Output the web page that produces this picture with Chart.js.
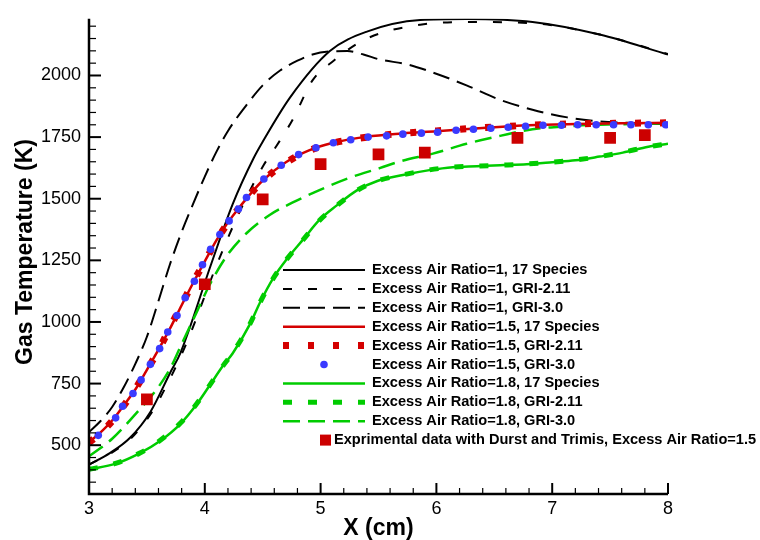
<!DOCTYPE html>
<html>
<head>
<meta charset="utf-8">
<script src="https://cdn.jsdelivr.net/npm/chart.js@4.4.1/dist/chart.umd.min.js"></script>
<style>
  html, body { margin: 0; padding: 0; background: #fff; }
</style>
</head>
<body>
<canvas id="myChart" width="760" height="540"></canvas>
<script>
// tick labels
var xTicks = [3, 4, 5, 6, 7, 8];
var yTicks = [500, 750, 1000, 1250, 1500, 1750, 2000];

// Excess air ratio = 1
var xEr1Sp17 = [3.0, 3.18, 3.35, 3.53, 3.70, 3.79, 4.05, 4.24, 4.42, 4.50, 4.74, 5.08, 5.40, 5.86, 6.26, 6.83, 7.41, 8.0];
var yEr1Sp17 = [421, 468, 528, 635, 793, 875, 1228, 1477, 1663, 1731, 1913, 2099, 2178, 2225, 2229, 2217, 2166, 2085];
var xEr1Gri211 = [3.0, 3.18, 3.35, 3.53, 3.70, 3.85, 4.10, 4.28, 4.50, 4.62, 4.76, 4.93, 5.11, 5.40, 5.86, 6.26, 6.83, 7.41, 8.0];
var yEr1Gri211 = [421, 465, 522, 625, 770, 923, 1228, 1426, 1630, 1715, 1822, 1980, 2059, 2150, 2206, 2217, 2212, 2166, 2087];
var xEr1Gri30 = [3.0, 3.1, 3.2, 3.3, 3.4, 3.5, 3.6, 3.7, 3.8, 3.9, 4.0, 4.1, 4.2, 4.36, 4.5, 4.65, 4.8, 4.93, 5.1, 5.23, 5.37, 5.51, 5.75, 5.97, 6.26, 6.55, 6.83, 7.13, 7.41, 7.65, 8.0];
var yEr1Gri30 = [553, 598, 655, 735, 830, 940, 1085, 1235, 1365, 1480, 1590, 1690, 1775, 1880, 1960, 2020, 2060, 2085, 2098, 2099, 2085, 2065, 2045, 2012, 1960, 1901, 1861, 1830, 1814, 1808, 1803];

// Excess air ratio = 1.5
var xEr15Sp17 = [3.0, 3.1, 3.2, 3.3, 3.4, 3.5, 3.6, 3.7, 3.8, 3.9, 4.0, 4.1, 4.2, 4.3, 4.4, 4.5, 4.7, 4.9, 5.1, 5.4, 5.7, 6.0, 6.4, 6.8, 7.2, 7.6, 8.0];
var yEr15Sp17 = [512, 552, 600, 662, 726, 806, 888, 974, 1068, 1159, 1246, 1331, 1404, 1466, 1523, 1574, 1648, 1696, 1726, 1752, 1765, 1774, 1787, 1798, 1803, 1806, 1808];
var xEr15Gri211 = [3.0, 3.1, 3.2, 3.3, 3.4, 3.5, 3.6, 3.7, 3.8, 3.9, 4.0, 4.1, 4.2, 4.3, 4.4, 4.5, 4.7, 4.9, 5.1, 5.4, 5.7, 6.0, 6.4, 6.8, 7.2, 7.6, 8.0];
var yEr15Gri211 = [510, 550, 598, 660, 728, 805, 885, 978, 1070, 1162, 1245, 1330, 1402, 1465, 1522, 1572, 1646, 1695, 1725, 1750, 1765, 1775, 1788, 1798, 1804, 1806, 1808];
var xEr15Gri30 = [3.08, 3.23, 3.29, 3.38, 3.45, 3.53, 3.61, 3.68, 3.76, 3.83, 3.91, 3.98, 4.05, 4.13, 4.21, 4.29, 4.36, 4.51, 4.66, 4.81, 4.96, 5.11, 5.26, 5.41, 5.57, 5.71, 5.87, 6.01, 6.17, 6.32, 6.47, 6.62, 6.77, 6.92, 7.08, 7.22, 7.38, 7.53, 7.68, 7.83, 7.98];
var yEr15Gri30 = [540, 611, 658, 710, 765, 828, 892, 959, 1026, 1098, 1165, 1232, 1295, 1355, 1410, 1458, 1505, 1580, 1636, 1679, 1707, 1727, 1739, 1750, 1755, 1762, 1766, 1770, 1778, 1782, 1786, 1790, 1794, 1798, 1798, 1800, 1800, 1800, 1800, 1800, 1800];

// Excess air ratio = 1.8
var xEr18Sp17 = [3.0, 3.23, 3.44, 3.61, 3.79, 3.93, 4.04, 4.16, 4.24, 4.39, 4.48, 4.59, 4.71, 4.85, 4.99, 5.14, 5.31, 5.49, 5.71, 5.94, 6.14, 6.35, 6.55, 6.78, 7.0, 7.2, 7.41, 7.61, 7.83, 8.0];
var yEr18Sp17 = [402, 425, 468, 516, 587, 666, 741, 824, 872, 991, 1082, 1177, 1256, 1335, 1414, 1473, 1533, 1572, 1596, 1616, 1628, 1632, 1636, 1640, 1648, 1656, 1671, 1687, 1711, 1723];
var xEr18Gri211 = [3.0, 3.23, 3.44, 3.61, 3.79, 3.93, 4.04, 4.16, 4.24, 4.39, 4.48, 4.59, 4.71, 4.85, 4.99, 5.14, 5.31, 5.49, 5.71, 5.94, 6.14, 6.35, 6.55, 6.78, 7.0, 7.2, 7.41, 7.61, 7.83, 8.0];
var yEr18Gri211 = [402, 426, 468, 518, 590, 668, 742, 824, 874, 992, 1082, 1176, 1256, 1334, 1412, 1472, 1532, 1572, 1597, 1617, 1628, 1632, 1636, 1641, 1648, 1657, 1671, 1688, 1711, 1723];
var xEr18Gri30 = [3.0, 3.2, 3.38, 3.59, 3.70, 3.79, 3.93, 4.04, 4.19, 4.36, 4.56, 4.76, 4.99, 5.25, 5.51, 5.69, 5.97, 6.26, 6.55, 6.83, 7.13, 7.41, 8.0];
var yEr18Gri30 = [455, 526, 615, 730, 810, 900, 1040, 1149, 1268, 1360, 1434, 1485, 1535, 1585, 1624, 1652, 1683, 1723, 1755, 1782, 1794, 1800, 1806];

// experiment (Durst and Trimis), excess air ratio = 1.5
var xExp = [3.5, 4.0, 4.5, 5.0, 5.5, 5.9, 6.7, 7.5, 7.8];
var yExp = [686, 1153, 1497, 1640, 1680, 1687, 1747, 1747, 1758];

var legendLabels = [
  'Excess Air Ratio=1, 17 Species',
  'Excess Air Ratio=1, GRI-2.11',
  'Excess Air Ratio=1, GRI-3.0',
  'Excess Air Ratio=1.5, 17 Species',
  'Excess Air Ratio=1.5, GRI-2.11',
  'Excess Air Ratio=1.5, GRI-3.0',
  'Excess Air Ratio=1.8, 17 Species',
  'Excess Air Ratio=1.8, GRI-2.11',
  'Excess Air Ratio=1.8, GRI-3.0',
  'Exprimental data with Durst and Trimis, Excess Air Ratio=1.5'
];

var FONT = "'Liberation Sans', Arial, Helvetica, sans-serif";
var RED = '#d40000';
var GREEN = '#00cc00';
var BLUE = '#3a3aff';

function pts(xs, ys) {
  return xs.map(function(v, i) { return { x: v, y: ys[i] }; });
}

function lineSet(label, xs, ys, color, width, dash, order) {
  return {
    label: label,
    data: pts(xs, ys),
    showLine: true,
    borderColor: color,
    backgroundColor: color,
    borderWidth: width,
    borderDash: dash,
    borderCapStyle: 'butt',
    cubicInterpolationMode: 'monotone',
    pointRadius: 0,
    clip: 0,
    order: order
  };
}

var datasets = [
  lineSet(legendLabels[0], xEr1Sp17, yEr1Sp17, '#000', 2, [], 9),
  lineSet(legendLabels[1], xEr1Gri211, yEr1Gri211, '#000', 2, [9, 16], 8),
  lineSet(legendLabels[2], xEr1Gri30, yEr1Gri30, '#000', 2, [17, 8], 7),
  lineSet(legendLabels[3], xEr15Sp17, yEr15Sp17, RED, 2.5, [], 3),
  lineSet(legendLabels[4], xEr15Gri211, yEr15Gri211, RED, 7, [6, 19], 2),
  {
    label: legendLabels[5],
    data: pts(xEr15Gri30, yEr15Gri30),
    showLine: false,
    pointRadius: 3.8,
    pointBorderWidth: 0,
    backgroundColor: BLUE,
    borderColor: BLUE,
    clip: 0,
    order: 1
  },
  lineSet(legendLabels[6], xEr18Sp17, yEr18Sp17, GREEN, 2.5, [], 6),
  lineSet(legendLabels[7], xEr18Gri211, yEr18Gri211, GREEN, 5, [9, 16], 5),
  lineSet(legendLabels[8], xEr18Gri30, yEr18Gri30, GREEN, 2.5, [17, 8], 4),
  {
    label: legendLabels[9],
    data: pts(xExp, yExp),
    showLine: false,
    pointStyle: 'rect',
    pointRadius: 8.3,
    pointBorderWidth: 0,
    backgroundColor: '#cc0000',
    borderColor: '#cc0000',
    clip: 0,
    order: 0
  }
];

// inward ticks, axis lines, titles and the legend box
var decorations = {
  id: 'decorations',
  afterDraw: function(chart) {
    var ctx = chart.ctx;
    var a = chart.chartArea;
    var xs = chart.scales.x, ys = chart.scales.y;
    ctx.save();
    ctx.strokeStyle = '#000';
    ctx.setLineDash([]);

    // x ticks every 0.2
    for (var i = 0; i <= 25; i++) {
      var px = xs.getPixelForValue(3 + i * 0.2);
      var major = i % 5 === 0;
      ctx.lineWidth = major ? 2 : 1.2;
      ctx.beginPath();
      ctx.moveTo(px, a.bottom);
      ctx.lineTo(px, a.bottom - (major ? 11 : 6));
      ctx.stroke();
    }
    // y ticks every 50
    for (var v = 350; v <= 2200; v += 50) {
      var py = ys.getPixelForValue(v);
      var maj = v % 250 === 0;
      ctx.lineWidth = maj ? 2 : 1.2;
      ctx.beginPath();
      ctx.moveTo(a.left, py);
      ctx.lineTo(a.left + (maj ? 12 : 7), py);
      ctx.stroke();
    }
    // axis lines
    ctx.lineWidth = 2.5;
    ctx.beginPath();
    ctx.moveTo(a.left, a.top);
    ctx.lineTo(a.left, a.bottom);
    ctx.lineTo(a.right, a.bottom);
    ctx.stroke();

    // axis titles
    ctx.fillStyle = '#000';
    ctx.font = 'bold 23px ' + FONT;
    ctx.textAlign = 'center';
    ctx.textBaseline = 'alphabetic';
    ctx.fillText('X (cm)', (a.left + a.right) / 2, 535);
    ctx.save();
    ctx.translate(32, 252);
    ctx.rotate(-Math.PI / 2);
    ctx.fillText('Gas Temperature (K)', 0, 0);
    ctx.restore();

    // legend
    ctx.font = 'bold 14.6px ' + FONT;
    ctx.textAlign = 'left';
    ctx.textBaseline = 'middle';
    for (var k = 0; k < datasets.length; k++) {
      var ds = datasets[k];
      var ry = 270 + k * 18.9;
      if (k === 9) {
        ctx.fillStyle = ds.backgroundColor;
        ctx.fillRect(320, ry - 5.5, 11, 11);
        ctx.fillStyle = '#000';
        ctx.fillText(legendLabels[k], 334, ry);
        continue;
      }
      if (ds.showLine) {
        ctx.strokeStyle = ds.borderColor;
        ctx.lineWidth = ds.borderWidth;
        ctx.lineCap = 'butt';
        ctx.setLineDash(ds.borderDash);
        ctx.beginPath();
        ctx.moveTo(283, ry);
        ctx.lineTo(365, ry);
        ctx.stroke();
        ctx.setLineDash([]);
      } else {
        ctx.fillStyle = ds.backgroundColor;
        ctx.beginPath();
        ctx.arc(324, ry, 3.8, 0, Math.PI * 2);
        ctx.fill();
      }
      ctx.fillStyle = '#000';
      ctx.fillText(legendLabels[k], 372, ry);
    }
    ctx.restore();
  }
};

function plainLabel(v) { return String(v); }

var ctx = document.getElementById('myChart').getContext('2d');
var myChart = new Chart(ctx, {
  type: 'scatter',
  data: { datasets: datasets },
  options: {
    responsive: false,
    animation: false,
    devicePixelRatio: 1,
    layout: { padding: { top: 7, right: 92, left: 0, bottom: 0 } },
    plugins: {
      legend: { display: false },
      tooltip: { enabled: false }
    },
    scales: {
      x: {
        type: 'linear',
        min: 3,
        max: 8,
        afterBuildTicks: function(s) { s.ticks = xTicks.map(function(v) { return { value: v }; }); },
        afterFit: function(s) { s.height = 46; },
        grid: { display: false, drawTicks: false },
        border: { display: false },
        ticks: { color: '#000', padding: 4, callback: plainLabel, font: { family: FONT, size: 18 } }
      },
      y: {
        type: 'linear',
        min: 302,
        max: 2230,
        afterBuildTicks: function(s) { s.ticks = yTicks.map(function(v) { return { value: v }; }); },
        afterFit: function(s) { s.width = 89; },
        grid: { display: false, drawTicks: false },
        border: { display: false },
        ticks: { color: '#000', padding: 8, callback: plainLabel, font: { family: FONT, size: 18 } }
      }
    }
  },
  plugins: [decorations]
});
</script>
</body>
</html>
